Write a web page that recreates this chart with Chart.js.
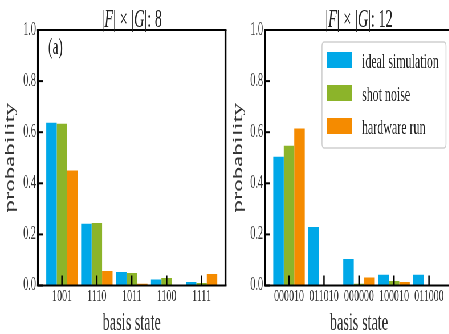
<!DOCTYPE html>
<html><head><meta charset="utf-8">
<script src="https://cdn.jsdelivr.net/npm/chart.js@4/dist/chart.umd.min.js"></script>
<style>
html,body{margin:0;padding:0;background:#fff;overflow:hidden;width:449px;height:334px}
#wrap{position:absolute;left:0;top:0;width:800px;height:334px;transform:scaleX(0.57);transform-origin:0 0}
.panel{position:absolute;top:0;width:400px;height:334px}
</style></head><body>
<div id="wrap">
  <div class="panel" style="left:0"><canvas id="ca"></canvas></div>
  <div class="panel" style="left:400px"><canvas id="cb"></canvas></div>
</div>
<script>
const S = 0.57;
const labelsA = ['1001', '1110', '1011', '1100', '1111'];
const idealA = [0.637, 0.242, 0.053, 0.023, 0.014];
const shotA  = [0.633, 0.245, 0.049, 0.029, 0.010];
const hwA    = [0.450, 0.057, 0.007, 0.002, 0.045];
const labelsB = ['000010', '011010', '000000', '100010', '011000'];
const idealB = [0.504, 0.229, 0.104, 0.042, 0.042];
const shotB  = [0.547, 0.000, 0.007, 0.018, 0.000];
const hwB    = [0.614, 0.000, 0.031, 0.014, 0.000];
const yTicks = [0.0, 0.2, 0.4, 0.6, 0.8, 1.0];
const seriesNames = ['ideal simulation', 'shot noise', 'hardware run'];
const colors = ['#00a8e8', '#8cb42a', '#f58b00'];
const FONT = "'Liberation Serif', 'DejaVu Serif', serif";

function makePanel(id, labels, series, titleN, tag, originRef, axisLeftRef, axisRightRef, showLegend) {
  const ix = r => (r - originRef) / S;
  const W = 400;
  const plugin = {
    id: 'deco' + id,
    afterDatasetsDraw(chart) {
      const {ctx, chartArea: {left, right, top, bottom}, scales: {x, y}} = chart;
      ctx.save();
      ctx.strokeStyle = '#000';
      ctx.lineWidth = 2.5;
      labels.forEach((_, i) => {
        const px = x.getPixelForValue(i);
        ctx.beginPath(); ctx.moveTo(px, bottom); ctx.lineTo(px, bottom - 10); ctx.stroke();
      });
      ctx.lineWidth = 2;
      yTicks.forEach(v => {
        const py = y.getPixelForValue(v);
        ctx.beginPath(); ctx.moveTo(left, py); ctx.lineTo(left + 5 / S, py); ctx.stroke();
      });
      ctx.lineWidth = 2.2;
      ctx.beginPath(); ctx.moveTo(left - 1.8, top); ctx.lineTo(right + 1.8, top); ctx.stroke();
      ctx.beginPath(); ctx.moveTo(left - 1.8, bottom); ctx.lineTo(right + 1.8, bottom); ctx.stroke();
      ctx.lineWidth = 3.4;
      ctx.beginPath(); ctx.moveTo(left, top); ctx.lineTo(left, bottom); ctx.stroke();
      ctx.beginPath(); ctx.moveTo(right, top); ctx.lineTo(right, bottom); ctx.stroke();

      // panel tag
      ctx.fillStyle = '#222';
      ctx.font = '23px ' + FONT;
      ctx.textAlign = 'center'; ctx.textBaseline = 'middle';
      ctx.fillText(tag, left + (55.5 - axisLeftRef) / S, 48);

      // title with italic F, G
      const segs = [['|', false], ['F', true], ['| \u00d7 |', false], ['G', true], ['|: ' + titleN, false]];
      const fN = '25px ' + FONT, fI = 'italic 25px ' + FONT;
      let tw = 0;
      segs.forEach(s => { ctx.font = s[1] ? fI : fN; tw += ctx.measureText(s[0]).width; });
      let cx = (left + right) / 2 - tw / 2;
      ctx.textAlign = 'left'; ctx.textBaseline = 'alphabetic';
      segs.forEach(s => { ctx.font = s[1] ? fI : fN; ctx.fillText(s[0], cx, 27); cx += ctx.measureText(s[0]).width; });

      if (showLegend) {
        const bx0 = ix(322), bx1 = ix(446), by0 = 42, by1 = 148;
        ctx.beginPath();
        ctx.roundRect(bx0, by0, bx1 - bx0, by1 - by0, 4);
        ctx.fillStyle = 'rgba(255,255,255,0.85)'; ctx.fill();
        ctx.strokeStyle = '#cfcfcf'; ctx.lineWidth = 1.6; ctx.stroke();
        const sw0 = ix(327), sw1 = ix(352), tx = ix(362);
        const tops = [52, 85, 118];
        ctx.font = '21px ' + FONT;
        ctx.textAlign = 'left'; ctx.textBaseline = 'alphabetic';
        seriesNames.forEach((n, i) => {
          ctx.fillStyle = colors[i];
          ctx.fillRect(sw0, tops[i], sw1 - sw0, 16);
          ctx.fillStyle = '#222';
          ctx.fillText(n, tx, tops[i] + 16);
        });
      }
      ctx.restore();
    }
  };
  return new Chart(document.getElementById(id), {
    type: 'bar',
    data: {
      datasets: series.map((vals, k) => ({
        label: seriesNames[k],
        data: vals.map((v, i) => ({x: i, y: v})),
        backgroundColor: colors[k],
        borderWidth: 0,
        barPercentage: 1.0,
        categoryPercentage: 0.9
      }))
    },
    options: {
      responsive: true, maintainAspectRatio: false, animation: false, events: [],
      layout: {padding: {top: 30, right: W - ix(axisRightRef), left: 0, bottom: 0}},
      plugins: {legend: {display: false}, tooltip: {enabled: false}, title: {display: false}},
      scales: {
        x: {
          type: 'linear', offset: false, min: -0.686, max: 4.686,
          grid: {display: false, drawTicks: false}, border: {display: false},
          afterBuildTicks: s => { s.ticks = labels.map((_, i) => ({value: i})); },
          afterFit: s => { s.height = 334 - 285.5; },
          ticks: {autoSkip: false, maxRotation: 0, padding: 0, color: '#333',
                  font: {family: FONT, size: 17.5}, callback: v => labels[Math.round(v)]},
          title: {display: true, text: 'basis state', color: '#333',
                  font: {family: FONT, size: 25}, padding: {top: 0, bottom: -4}}
        },
        y: {
          min: 0, max: 1,
          grid: {display: false, drawTicks: false}, border: {display: false},
          afterBuildTicks: s => { s.ticks = yTicks.map(v => ({value: v})); },
          afterFit: s => { s.width = ix(axisLeftRef); },
          ticks: {padding: 3.5, color: '#333', font: {family: FONT, size: 18},
                  callback: v => Number(v).toFixed(1)},
          title: {display: true, text: 'probability', color: '#333',
                  font: {family: FONT, size: 25}, padding: {top: 3.4, bottom: 0}}
        }
      }
    },
    plugins: [plugin]
  });
}

makePanel('ca', labelsA, [idealA, shotA, hwA], '8', '(a)', 0, 38, 225.5, false);
makePanel('cb', labelsB, [idealB, shotB, hwB], '12', '(b)', 228, 265, 453, true);
</script>
</body></html>
